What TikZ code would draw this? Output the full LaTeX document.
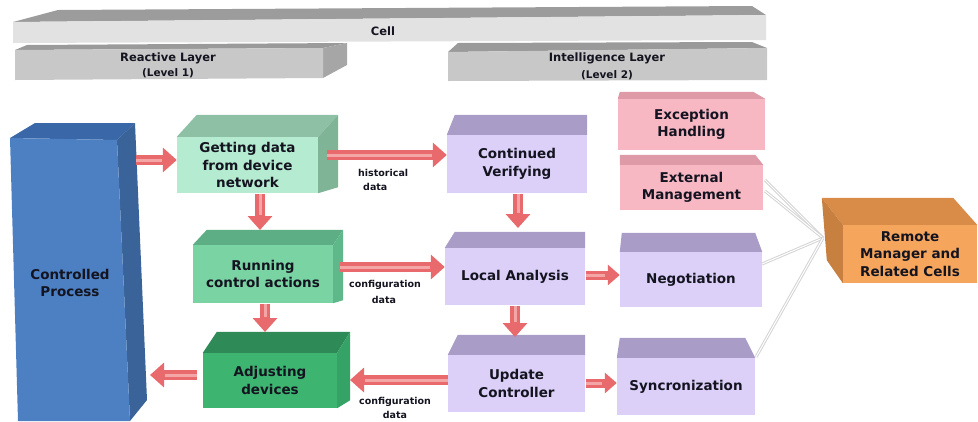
\documentclass[tikz,border=0pt]{standalone}
\usepackage{fontspec}
\setmainfont{DejaVu Sans}
\usetikzlibrary{arrows.meta,calc}

\definecolor{txt}{HTML}{141420}
\definecolor{cellF}{HTML}{E2E2E2}
\definecolor{cellT}{HTML}{9C9C9C}
\definecolor{layF}{HTML}{C8C8C8}
\definecolor{layT}{HTML}{9A9A9A}
\definecolor{layS}{HTML}{A6A6A6}
\definecolor{blueF}{HTML}{4C80C3}
\definecolor{blueT}{HTML}{3A67A8}
\definecolor{blueS}{HTML}{3A6399}
\definecolor{mintF}{HTML}{B5EBD0}
\definecolor{mintT}{HTML}{8EC0A5}
\definecolor{mintS}{HTML}{80B497}
\definecolor{runF}{HTML}{7AD3A3}
\definecolor{runT}{HTML}{5DAE84}
\definecolor{runS}{HTML}{5FB88A}
\definecolor{adjF}{HTML}{3DB46F}
\definecolor{adjT}{HTML}{2E8B57}
\definecolor{adjS}{HTML}{36A366}
\definecolor{lavF}{HTML}{DCD0F8}
\definecolor{lavT}{HTML}{A99DC8}
\definecolor{pinkF}{HTML}{F7B8C4}
\definecolor{pinkT}{HTML}{DE9AA6}
\definecolor{orF}{HTML}{F5A65C}
\definecolor{orT}{HTML}{D98C48}
\definecolor{orS}{HTML}{C7803F}
\definecolor{arrowred}{HTML}{E86A6C}
\definecolor{arrowhi}{HTML}{F4A6A6}
\definecolor{wire}{HTML}{D4D4D4}

% top face of a box: offsets of the back-left and back-right corners
\newcommand\cubetop[6]{\fill[#6] (#1.north west) -- ++(#2,#3) -- ($(#1.north east)+(#4,#5)$) -- (#1.north east) -- cycle;}
% right side face of a box
\newcommand\cubeside[6]{\fill[#6] (#1.north east) -- ++(#2,#3) -- ($(#1.south east)+(#4,#5)$) -- (#1.south east) -- cycle;}
% fat red arrow with a light stripe on its shaft
\newcommand\redarrow[3][fat]{\draw[#1] (#2) -- (#3); \draw[shine] (#2) -- (#3);}

\tikzset{
  face/.style={inner sep=0pt, draw=none, text=txt, align=center,
    font=\fontsize{13.5}{17.5}\selectfont\bfseries},
  lbl/.style={inner sep=0pt, text=txt, align=center,
    font=\fontsize{13.5}{17.5}\selectfont\bfseries},
  small/.style={inner sep=0pt, text=txt, align=center,
    font=\fontsize{9.5}{14}\selectfont\bfseries},
  barlbl/.style={inner sep=0pt, text=txt, align=center,
    font=\fontsize{11.5}{14}\selectfont\bfseries},
  levlbl/.style={inner sep=0pt, text=txt, align=center,
    font=\fontsize{10.5}{12}\selectfont\bfseries},
  fat/.style={line width=10pt, draw=arrowred, -{Triangle[length=14pt,width=24pt]}},
  fatsm/.style={line width=9pt, draw=arrowred, -{Triangle[length=12pt,width=20pt]}},
  shine/.style={line width=3pt, draw=arrowhi, shorten >=15pt},
  wireline/.style={draw=wire, line width=3pt},
  wirecore/.style={draw=white, line width=1pt},
}

\begin{document}
\begin{tikzpicture}[x=1pt,y=-1pt]
\useasboundingbox (0,0) rectangle (978,421);

% ---- Cell bar
\fill[cellT] (13,22) -- (58,10) -- (752,6) -- (766,15) -- cycle;
\fill[cellF] (13,22) -- (766,15) -- (766,40) -- (13,43) -- cycle;
\node[barlbl] (cell) at (383,31) {Cell};

% ---- Reactive layer bar
\fill[layT] (15,50) -- (27,45) -- (347,43) -- (323,48) -- cycle;
\fill[layS] (323,48) -- (347,43) -- (347,65) -- (323,78) -- cycle;
\fill[layF] (15,50) -- (323,48) -- (323,78) -- (15,80) -- cycle;
\node[barlbl] (react) at (168,58) {Reactive Layer};
\node[levlbl] (lev1) at (168,73) {(Level 1)};

% ---- Intelligence layer bar
\fill[layT] (448,52) -- (458,43) -- (752,42) -- (767,48) -- cycle;
\fill[layF] (448,52) -- (767,48) -- (767,80) -- (448,81) -- cycle;
\node[barlbl] (intel) at (607,58) {Intelligence Layer};
\node[levlbl] (lev2) at (607,75) {(Level 2)};

% ---- Controlled process column
\fill[blueT] (10,138) -- (35,123) -- (135,123) -- (117,140) -- cycle;
\fill[blueS] (117,140) -- (135,123) -- (147,400) -- (130,421) -- cycle;
\fill[blueF] (10,138) -- (117,140) -- (130,421) -- (18,421) -- cycle;
\node[lbl] (proc) at (70,283) {Controlled\\Process};

% ---- Reactive layer boxes
\node[face, fill=mintF, minimum width=141pt, minimum height=56pt] (get) at (247.5,165) {Getting data\\from device\\network};
\cubetop{get}{20}{-22}{20}{-22}{mintT}
\cubeside{get}{20}{-22}{20}{-6}{mintS}

\node[face, fill=runF, minimum width=140pt, minimum height=58pt] (run) at (263,274) {Running\\control actions};
\cubetop{run}{14}{-15}{10}{-15}{runT}
\cubeside{run}{10}{-15}{10}{-3}{runS}

\node[face, fill=adjF, minimum width=134pt, minimum height=55pt] (adj) at (270,380.5) {Adjusting\\devices};
\cubetop{adj}{14}{-21}{13}{-21}{adjT}
\cubeside{adj}{13}{-21}{13}{-8}{adjS}

% ---- Intelligence layer boxes
\node[face, fill=lavF, minimum width=140pt, minimum height=58pt] (ver) at (517,164) {Continued\\Verifying};
\cubetop{ver}{8}{-20}{0}{-20}{lavT}

\node[face, fill=lavF, minimum width=140pt, minimum height=57pt] (loc) at (515,276.5) {Local Analysis};
\cubetop{loc}{10}{-16}{0}{-16}{lavT}

\node[face, fill=lavF, minimum width=137pt, minimum height=57pt] (upd) at (516.5,383.5) {Update\\Controller};
\cubetop{upd}{10}{-20}{0}{-20}{lavT}

\node[face, fill=pinkF, minimum width=147pt, minimum height=51pt] (exc) at (691.5,124.5) {Exception\\Handling};
\cubetop{exc}{2}{-7}{-12}{-7}{pinkT}

\node[face, fill=pinkF, minimum width=143pt, minimum height=45pt] (ext) at (691.5,187.5) {External\\Management};
\cubetop{ext}{0}{-10}{-8}{-10}{pinkT}

\node[face, fill=lavF, minimum width=142pt, minimum height=55pt] (neg) at (691,279.5) {Negotiation};
\cubetop{neg}{2}{-19}{-7}{-19}{lavT}

\node[face, fill=lavF, minimum width=138pt, minimum height=57pt] (syn) at (686,386.5) {Syncronization};
\cubetop{syn}{3}{-20}{-10}{-20}{lavT}

% ---- Links to the remote manager
\coordinate (hub) at (823,238);
\coordinate (w1) at (765,180);
\coordinate (w2) at (765,191);
\coordinate (w3) at (762,264);
\coordinate (w4) at (756,357);
\foreach \w in {w1,w2,w3,w4} {
  \draw[wireline] (\w) -- (hub);
  \draw[wirecore] (\w) -- (hub);
}

\node[face, fill=orF, minimum width=134pt, minimum height=58pt] (rem) at (910,254) {Remote\\Manager and\\Related Cells};
\cubetop{rem}{-21}{-27}{-24}{-27}{orT}
\fill[orS] (rem.north west) -- ++(-21,-27) -- ($(rem.south west)+(-16,-23)$) -- (rem.south west) -- cycle;

% ---- Data flow arrows
\coordinate (a1) at (136,160);
\redarrow{a1}{get.west |- a1}

\coordinate (a2) at (327,155);
\redarrow{a2}{ver.west |- a2}
\node[small, anchor=west] (hist1) at (358,173) {historical};
\node[small, anchor=west] (hist2) at (363,187) {data};

\coordinate (a3) at (260,194);
\coordinate (a3e) at (260,230);
\redarrow{a3}{a3e}

\coordinate (a4) at (340,267);
\redarrow{a4}{loc.west |- a4}
\node[small] (conf1) at (385,285) {configuration};
\node[small] (conf1b) at (384,300) {data};

\coordinate (a5) at (265,304);
\coordinate (a5e) at (265,332);
\redarrow{a5}{a5e}

\coordinate (a6) at (197,375);
\coordinate (a6e) at (150,375);
\redarrow{a6}{a6e}

\coordinate (a7) at (448,380);
\coordinate (a7e) at (350,380);
\redarrow{a7}{a7e}
\node[small] (conf2) at (395,402) {configuration};
\node[small] (conf2b) at (395,415) {data};

\coordinate (a8) at (518,194);
\coordinate (a8e) at (518,228);
\redarrow{a8}{a8e}

\coordinate (a9) at (515,306);
\coordinate (a9e) at (515,337);
\redarrow{a9}{a9e}

\coordinate (a10) at (586,275);
\redarrow[fatsm]{a10}{neg.west |- a10}

\coordinate (a11) at (586,383);
\redarrow[fatsm]{a11}{syn.west |- a11}
\end{tikzpicture}
\end{document}
